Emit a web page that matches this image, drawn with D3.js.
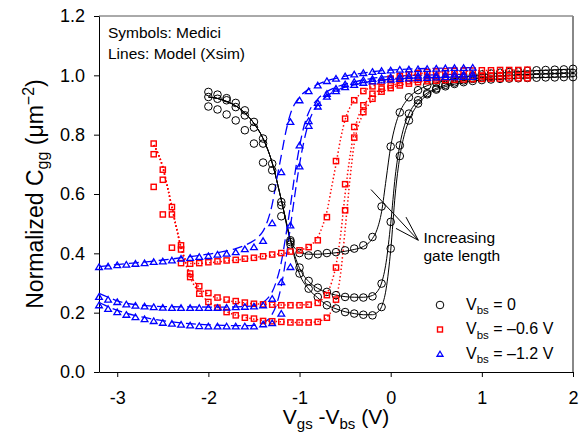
<!DOCTYPE html>
<html>
<head>
<meta charset="utf-8">
<script src="https://cdn.jsdelivr.net/npm/d3@7"></script>
<style>
  body { margin: 0; background: #fff; }
  svg { display: block; font-family: "Liberation Sans", Arial, sans-serif; }
</style>
</head>
<body>
<div id="chart"></div>
<script>
// Tick values
const xTicks = [-3, -2, -1, 0, 1, 2];
const yTicks = [0, 0.2, 0.4, 0.6, 0.8, 1.0, 1.2];

// Medici symbols, Vbs = 0 (three gate lengths)
const xBlack = [-2.0,-1.9,-1.8,-1.7,-1.6,-1.5,-1.4,-1.3,-1.2,-1.1,-1.0,-0.9,-0.8,-0.7,-0.6,-0.5,-0.4,-0.3,-0.2,-0.1,
  0.0,0.1,0.2,0.3,0.4,0.5,0.6,0.7,0.8,0.9,1.0,1.1,1.2,1.3,1.4,1.5,1.6,1.7,1.8,1.9,2.0];
const blackA = [.944,.935,.923,.907,.882,.843,.787,.702,.573,.444, .401,.393,.397,.401,.404,.410,.416,.427,.455,.558,
  .760,.875,.926,.950,.966,.976,.984,.990,.995,.999, 1.003,1.006,1.009,1.011,1.013,1.015,1.017,1.018,1.019,1.020,1.022];
const blackB = [.927,.921,.916,.893,.865,.824,.770,.680,.562,.438, .352,.307,.284,.270,.259,.253,.251,.251,.255,.298,
  .506,.764,.871,.916,.940,.956,.968,.976,.983,.988, .992,.995,.998,1.000,1.002,1.003,1.004,1.005,1.006,1.007,1.008];
const blackC = [.895,.885,.868,.848,.815,.770,.706,.621,.525,.430, .332,.281,.253,.225,.214,.202,.197,.193,.191,.219,
  .416,.728,.848,.905,.936,.952,.963,.971,.977,.981, .984,.986,.988,.989,.990,.991,.992,.993,.993,.994,.994];

// Medici symbols, Vbs = -0.6 V
const xRed = [-2.6,-2.5,-2.4,-2.3,-2.2,-2.1,-2.0,-1.9,-1.8,-1.7,-1.6,-1.5,-1.4,-1.3,-1.2,-1.1,-1.0,-0.9,-0.8,-0.7,-0.6,
  -0.5,-0.4,-0.3,-0.2,-0.1,0.0,0.1,0.2,0.3,0.4,0.5,0.6,0.7,0.8,0.9,1.0,1.1,1.2,1.3,1.4,1.5];
const redA = [.624,.531,.419,.367,.365,.367,.370, .373,.376,.378,.382,.385,.390,.396,.401,.406,.410,
  .421,.444,.522,.711,.854,.916,.947,.963,.977,.989, .997,1.003,1.008,1.011,1.013,1.014,1.015,1.016,1.016,1.017,
  1.017,1.018,1.018,1.018,1.019];
const redB = [.770,.682,.556,.427,.332,.289,.266, .251,.244,.239,.234,.230,.228,.227,.225,.225,.225,
  .227,.233,.259,.352,.633,.826,.899,.938,.955,.966, .974,.980,.985,.988,.990,.992,.994,.995,.996,.997,
  .998,.998,.999,.999,1.000];
const redC = [.734,.648,.531,.413,.320,.264,.236, .217,.202,.191,.183,.180,.172,.171,.169,.167,.167,
  .167,.169,.183,.244,.545,.790,.876,.921,.945,.957, .966,.972,.977,.980,.982,.984,.985,.986,.987,.988,
  .989,.989,.990,.990,.990];

// Medici symbols, Vbs = -1.2 V
const xBlue = [-3.2,-3.1,-3.0,-2.9,-2.8,-2.7,-2.6,-2.5,-2.4,-2.3,-2.2,-2.1,-2.0,-1.9,-1.8,-1.7,-1.6,-1.5,-1.4,-1.3,
  -1.2,-1.1,-1.0,-0.9,-0.8,-0.7,-0.6,-0.5,-0.4,-0.3,-0.2,-0.1,0.0,0.1,0.2,0.3,0.4,0.5,0.6,0.7,0.8,0.9];
const blueA = [.354,.356,.360,.362,.365,.367,.371,.373,.376,.382, .385,.388,.391,.396,.399,.404,.414,.421,.442,.502,
  .674,.843,.916,.947,.966,.981,.989,.997,1.003,1.008, 1.012,1.015,1.017,1.019,1.020,1.021,1.022,1.023,1.024,1.025,
  1.025,1.026];
const blueB = [.253,.244,.236,.228,.224,.221,.219,.217,.216,.216, .216,.216,.216,.216,.217,.219,.220,.221,.225,.247,
  .303,.494,.764,.846,.907,.938,.955,.970,.978,.984, .988,.991,.994,.996,.998,.999,1.000,1.001,1.002,1.003,
  1.003,1.004];
const blueC = [.225,.213,.202,.193,.185,.178,.172,.166,.163,.160, .157,.155,.154,.154,.154,.154,.154,.154,.161,.165,
  .197,.354,.693,.830,.895,.928,.947,.960,.968,.975, .980,.983,.986,.988,.990,.991,.992,.993,.994,.994,
  .995,.995];

// Model (Xsim) lines, [x, y]
const blackDescent = [[-2.0,.927],[-1.9,.922],[-1.8,.912],[-1.7,.897],[-1.6,.873],[-1.5,.838],[-1.4,.787],
  [-1.3,.705],[-1.2,.58],[-1.1,.445]];
const blackModelA = blackDescent.concat([[-1.0,.405],[-0.9,.397],[-0.8,.397],[-0.7,.399],[-0.6,.402],[-0.5,.407],
  [-0.4,.413],[-0.3,.423],[-0.2,.45],[-0.15,.48],[-0.1,.54],[-0.05,.65],[0.0,.76],[0.05,.83],[0.1,.875],[0.2,.925],
  [0.3,.95],[0.4,.965],[0.6,.982],[0.8,.994],[1.0,1.002],[1.3,1.01],[1.6,1.016],[2.0,1.021]]);
const blackModelB = blackDescent.concat([[-1.05,.39],[-1.0,.35],[-0.9,.305],[-0.8,.282],[-0.7,.268],[-0.6,.259],
  [-0.5,.254],[-0.4,.252],[-0.3,.252],[-0.2,.258],[-0.15,.27],[-0.1,.3],[-0.05,.37],[0.0,.5],[0.05,.66],[0.1,.765],
  [0.15,.83],[0.2,.87],[0.3,.915],[0.4,.94],[0.6,.967],[0.8,.982],[1.0,.992],[1.3,1.0],[1.6,1.004],[2.0,1.008]]);
const blackModelC = blackDescent.concat([[-1.05,.38],[-1.0,.33],[-0.9,.28],[-0.8,.25],[-0.7,.226],[-0.6,.213],
  [-0.5,.203],[-0.4,.197],[-0.3,.193],[-0.2,.193],[-0.15,.2],[-0.1,.22],[-0.05,.28],[0.0,.41],[0.05,.6],[0.1,.725],
  [0.15,.8],[0.2,.847],[0.3,.903],[0.4,.934],[0.6,.962],[0.8,.976],[1.0,.984],[1.3,.989],[1.6,.992],[2.0,.995]]);

const redDescent = [[-2.6,.765],[-2.55,.735],[-2.5,.69],[-2.45,.625],[-2.4,.555],[-2.35,.485],[-2.3,.42]];
const redModelA = redDescent.concat([[-2.25,.38],[-2.2,.366],[-2.1,.366],[-2.0,.368],[-1.8,.374],[-1.6,.381],
  [-1.4,.39],[-1.2,.399],[-1.0,.41],[-0.9,.423],[-0.8,.455],[-0.75,.49],[-0.7,.54],[-0.65,.62],[-0.6,.7],
  [-0.55,.785],[-0.5,.85],[-0.45,.89],[-0.4,.915],[-0.3,.945],[-0.2,.963],[0,.985],[0.3,1.005],[0.6,1.012],
  [1.0,1.016],[1.5,1.018]]);
const redModelB = redDescent.concat([[-2.25,.37],[-2.2,.33],[-2.1,.285],[-2.0,.262],[-1.9,.249],[-1.8,.241],
  [-1.6,.233],[-1.4,.228],[-1.2,.226],[-1.0,.226],[-0.9,.228],[-0.8,.235],[-0.75,.245],[-0.7,.265],[-0.65,.3],
  [-0.6,.36],[-0.55,.46],[-0.5,.6],[-0.45,.72],[-0.4,.81],[-0.35,.865],[-0.3,.895],[-0.2,.935],[-0.1,.953],
  [0,.965],[0.2,.98],[0.5,.99],[1.0,.996],[1.5,.998]]);
const redModelC = redDescent.concat([[-2.25,.365],[-2.2,.32],[-2.1,.268],[-2.0,.237],[-1.9,.218],[-1.8,.203],
  [-1.7,.192],[-1.6,.184],[-1.4,.174],[-1.2,.169],[-1.0,.167],[-0.9,.167],[-0.8,.17],[-0.75,.175],[-0.7,.185],
  [-0.65,.205],[-0.6,.245],[-0.55,.33],[-0.5,.48],[-0.45,.64],[-0.4,.77],[-0.35,.835],[-0.3,.87],[-0.2,.918],
  [-0.1,.943],[0,.957],[0.2,.974],[0.5,.983],[1.0,.988],[1.5,.99]]);

const blueModelA = [[-3.2,.355],[-3.0,.362],[-2.8,.368],[-2.6,.374],[-2.4,.381],[-2.2,.389],[-2.0,.397],[-1.8,.408],
  [-1.7,.416],[-1.6,.427],[-1.5,.443],[-1.45,.456],[-1.4,.475],[-1.35,.51],[-1.3,.565],[-1.25,.65],[-1.2,.73],
  [-1.15,.81],[-1.1,.87],[-1.05,.905],[-1.0,.927],[-0.9,.953],[-0.8,.97],[-0.6,.99],[-0.4,1.003],[-0.2,1.012],
  [0,1.018],[0.4,1.023],[0.9,1.026]];
const blueModelB = [[-3.2,.265],[-3.1,.252],[-3.0,.24],[-2.9,.232],[-2.8,.227],[-2.6,.222],[-2.4,.22],[-2.0,.219],
  [-1.8,.219],[-1.6,.221],[-1.5,.224],[-1.45,.228],[-1.4,.235],[-1.35,.248],[-1.3,.27],[-1.25,.31],[-1.2,.37],
  [-1.15,.46],[-1.1,.56],[-1.05,.67],[-1.0,.76],[-0.95,.83],[-0.9,.875],[-0.8,.92],[-0.7,.945],[-0.6,.96],
  [-0.4,.978],[-0.2,.99],[0,.996],[0.4,1.001],[0.9,1.004]];
const blueModelC = [[-3.2,.235],[-3.1,.22],[-3.0,.208],[-2.8,.19],[-2.6,.178],[-2.4,.169],[-2.2,.163],[-2.0,.159],
  [-1.8,.157],[-1.6,.156],[-1.5,.157],[-1.45,.16],[-1.4,.165],[-1.35,.175],[-1.3,.195],[-1.25,.23],[-1.2,.29],
  [-1.15,.38],[-1.1,.49],[-1.05,.6],[-1.0,.7],[-0.95,.78],[-0.9,.84],[-0.8,.9],[-0.7,.93],[-0.6,.948],
  [-0.4,.968],[-0.2,.98],[0,.987],[0.4,.992],[0.9,.995]];

const W = 587, H = 432;
const margin = { top: 16, right: 14, bottom: 60, left: 99 };
const width = W - margin.left - margin.right;
const height = H - margin.top - margin.bottom;

const svg = d3.select("#chart").append("svg")
  .attr("width", W)
  .attr("height", H);

const g = svg.append("g").attr("transform", `translate(${margin.left},${margin.top})`);

const x = d3.scaleLinear().domain([-3.2, 2]).range([0, width]);
const y = d3.scaleLinear().domain([0, 1.2]).range([height, 0]);

// frame (top and right)
g.append("line").attr("x1", 0).attr("x2", width).attr("y1", 0).attr("y2", 0)
  .attr("stroke", "#555").attr("stroke-width", 1);
g.append("line").attr("x1", width).attr("x2", width).attr("y1", 0).attr("y2", height)
  .attr("stroke", "#888").attr("stroke-width", 2);

// axes
const xAxis = g.append("g")
  .attr("transform", `translate(0,${height})`)
  .call(d3.axisBottom(x).tickValues(xTicks).tickSize(5).tickSizeOuter(0).tickPadding(14)
    .tickFormat(d => String(d)));
const yAxis = g.append("g")
  .call(d3.axisLeft(y).tickValues(yTicks).tickSize(5).tickSizeOuter(0).tickPadding(9)
    .tickFormat(d3.format(".1f")));
[xAxis, yAxis].forEach(a => {
  a.attr("font-family", null).attr("font-size", 18);
  a.selectAll("text").attr("fill", "#000");
  a.selectAll("line, path").attr("stroke", "#000");
});

// model lines
const line = d3.line().x(d => x(d[0])).y(d => y(d[1])).curve(d3.curveMonotoneX);
const models = [
  { pts: blackModelA, color: "#000", dash: null, w: 1 },
  { pts: blackModelB, color: "#000", dash: null, w: 1 },
  { pts: blackModelC, color: "#000", dash: null, w: 1 },
  { pts: redModelA, color: "#f00", dash: "1.4,2.4", w: 1.5 },
  { pts: redModelB, color: "#f00", dash: "1.4,2.4", w: 1.5 },
  { pts: redModelC, color: "#f00", dash: "1.4,2.4", w: 1.5 },
  { pts: blueModelA, color: "#00f", dash: "10,5", w: 1.3 },
  { pts: blueModelB, color: "#00f", dash: "10,5", w: 1.3 },
  { pts: blueModelC, color: "#00f", dash: "10,5", w: 1.3 }
];
models.forEach(m => {
  g.append("path").datum(m.pts)
    .attr("d", line)
    .attr("fill", "none")
    .attr("stroke", m.color)
    .attr("stroke-width", m.w)
    .attr("stroke-dasharray", m.dash);
});

// symbol drawers
const tri = (s) => `M0,${-s * 0.55}L${s * 0.6},${s * 0.45}L${-s * 0.6},${s * 0.45}Z`;
function drawCircles(sel, xs, ys, r) {
  sel.selectAll(null).data(xs.map((v, i) => [v, ys[i]])).join("circle")
    .attr("cx", d => x(d[0])).attr("cy", d => y(d[1])).attr("r", r)
    .attr("fill", "none").attr("stroke", "#000").attr("stroke-width", 1);
}
function drawSquares(sel, xs, ys, s) {
  sel.selectAll(null).data(xs.map((v, i) => [v, ys[i]])).join("rect")
    .attr("x", d => x(d[0]) - s / 2).attr("y", d => y(d[1]) - s / 2)
    .attr("width", s).attr("height", s)
    .attr("fill", "none").attr("stroke", "#f00").attr("stroke-width", 1.4);
}
function drawTriangles(sel, xs, ys, s) {
  sel.selectAll(null).data(xs.map((v, i) => [v, ys[i]])).join("path")
    .attr("transform", d => `translate(${x(d[0])},${y(d[1])})`)
    .attr("d", tri(s))
    .attr("fill", "none").attr("stroke", "#00f").attr("stroke-width", 1.3);
}

const sym = g.append("g");
[blackA, blackB, blackC].forEach(ys => drawCircles(sym.append("g"), xBlack, ys, 3.8));
[redA, redB, redC].forEach(ys => drawSquares(sym.append("g"), xRed, ys, 5.2));
[blueA, blueB, blueC].forEach(ys => drawTriangles(sym.append("g"), xBlue, ys, 5.6));

// annotation: increasing gate length
const ann = g.append("g").attr("stroke", "#000").attr("stroke-width", 1).attr("fill", "none");
ann.append("line").attr("x1", x(-0.216)).attr("y1", y(0.615)).attr("x2", x(0.303)).attr("y2", y(0.444));
ann.append("line").attr("x1", x(0.168)).attr("y1", y(0.522)).attr("x2", x(0.303)).attr("y2", y(0.444));
ann.append("line").attr("x1", x(0.058)).attr("y1", y(0.484)).attr("x2", x(0.303)).attr("y2", y(0.444));
g.append("text").attr("x", x(0.36)).attr("y", y(0.435)).attr("font-size", 15.5).text("Increasing");
g.append("text").attr("x", x(0.36)).attr("y", y(0.373)).attr("font-size", 15.5).text("gate length");

// notes
g.append("text").attr("x", 9).attr("y", 22).attr("font-size", 15.5).text("Symbols: Medici");
g.append("text").attr("x", 9).attr("y", 43).attr("font-size", 15.5).text("Lines: Model (Xsim)");

// legend
const legendItems = [
  { type: "circle", label: " = 0" },
  { type: "square", label: " = \u20130.6 V" },
  { type: "triangle", label: " = \u20131.2 V" }
];
const lg = g.append("g").attr("transform", `translate(${341},${289})`);
legendItems.forEach((it, i) => {
  const row = lg.append("g").attr("transform", `translate(0,${i * 24.5})`);
  if (it.type === "circle") {
    row.append("circle").attr("r", 3.8).attr("fill", "none").attr("stroke", "#000");
  } else if (it.type === "square") {
    row.append("rect").attr("x", -2.5).attr("y", -2.5).attr("width", 5).attr("height", 5)
      .attr("fill", "none").attr("stroke", "#f00").attr("stroke-width", 1.4);
  } else {
    row.append("path").attr("d", tri(5)).attr("fill", "none").attr("stroke", "#00f").attr("stroke-width", 1.3);
  }
  const t = row.append("text").attr("x", 26).attr("y", 4.5).attr("font-size", 16);
  t.append("tspan").text("V");
  t.append("tspan").attr("font-size", 11.5).attr("dy", 4.5).text("bs");
  t.append("tspan").attr("dy", -4.5).text(it.label);
});

// axis titles
const xt = svg.append("text")
  .attr("x", margin.left + width / 2).attr("y", 424)
  .attr("text-anchor", "middle").attr("font-size", 21);
xt.append("tspan").text("V");
xt.append("tspan").attr("font-size", 15).attr("dy", 5).text("gs");
xt.append("tspan").attr("dy", -5).text(" -V");
xt.append("tspan").attr("font-size", 15).attr("dy", 5).text("bs");
xt.append("tspan").attr("dy", -5).text(" (V)");

const yt = svg.append("text")
  .attr("transform", `translate(43,${margin.top + height / 2}) rotate(-90)`)
  .attr("text-anchor", "middle").attr("font-size", 23);
yt.append("tspan").text("Normalized C");
yt.append("tspan").attr("font-size", 16).attr("dy", 5).text("gg");
yt.append("tspan").attr("dy", -5).text(" (\u03bcm");
yt.append("tspan").attr("font-size", 16).attr("dy", -9).text("\u22122");
yt.append("tspan").attr("dy", 9).text(")");
</script>
</body>
</html>
